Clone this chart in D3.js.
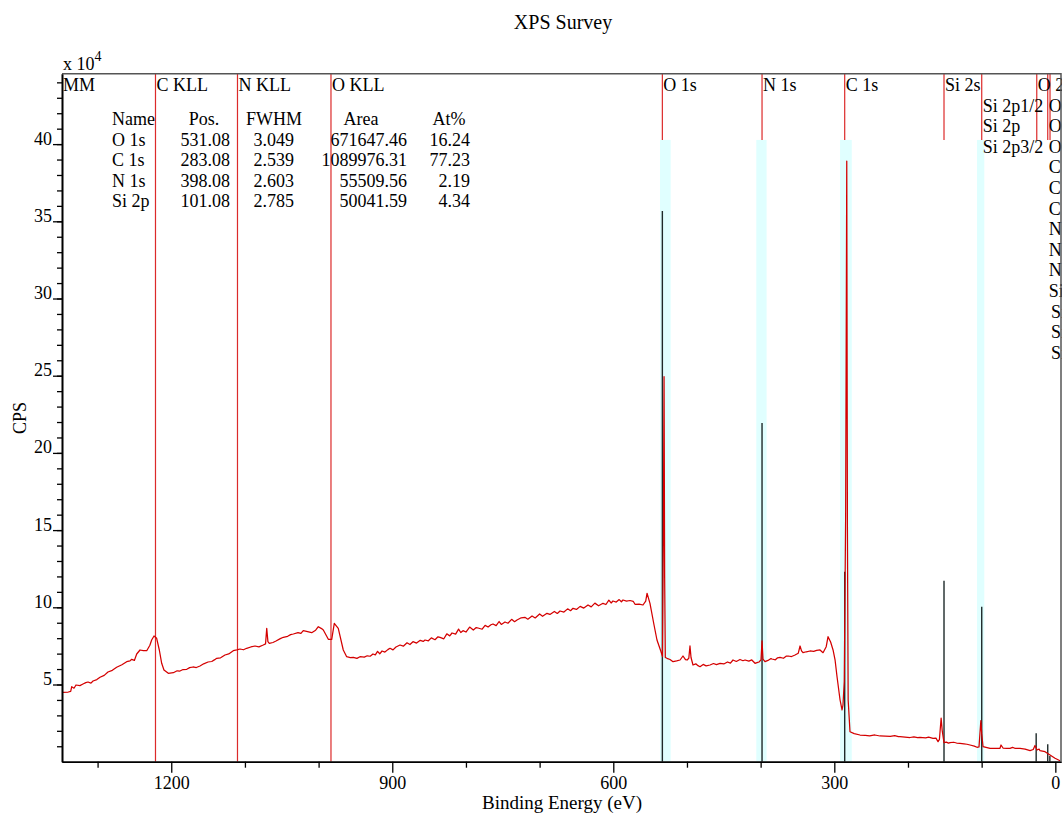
<!DOCTYPE html>
<html>
<head>
<meta charset="utf-8">
<script src="https://cdn.jsdelivr.net/npm/d3@7"></script>
<style>
  body { margin: 0; background: #fff; }
  text { font-family: "Liberation Serif", "Times New Roman", serif; fill: #000; }
</style>
</head>
<body>
<svg id="chart" width="1062" height="814"></svg>
<script>
// ---- Survey spectrum: [binding energy (eV), counts per second] ----
const surveySpectrum = [
  [1347.9, 44950], [1339.8, 45140], [1336.5, 45600], [1335.1, 48580], [1332, 47600],
  [1329.3, 49680], [1324, 49300], [1319.8, 50330], [1316, 51200], [1313.0, 51620],
  [1309, 50900], [1306.2, 52270], [1301, 53200], [1296.7, 54670], [1291, 55900],
  [1285.9, 58100], [1280, 59200], [1274.1, 61140], [1267, 62800], [1260.5, 64770],
  [1256, 65300], [1253.7, 66320], [1250, 65600], [1246.9, 69760], [1242.4, 72350],
  [1238, 72000], [1233.3, 71890], [1229, 75400], [1226.6, 78820], [1223.4, 81410],
  [1219.8, 79930], [1216.2, 72350], [1213.0, 63730], [1209.9, 59390], [1204.0, 57250],
  [1197.2, 57640], [1192, 58900], [1188.2, 58740], [1184, 59700], [1179.0, 59850],
  [1175, 60900], [1170.5, 61340], [1166, 61000], [1161.0, 61980], [1156, 63400],
  [1150.1, 64570], [1145, 64900], [1141, 66100], [1138.3, 66970], [1133, 67300],
  [1127.1, 69110], [1122, 69800], [1115.8, 71890], [1111, 72400], [1106.7, 72990],
  [1102, 72500], [1097.6, 73450], [1092, 74300], [1086.3, 74940], [1081, 74400],
  [1075.1, 75580], [1072, 76300], [1070.4, 86400], [1068.8, 77800], [1066.9, 76690],
  [1062, 77200], [1057.8, 78180], [1052, 79700], [1047.9, 80570], [1042, 81200],
  [1038, 82300], [1034.3, 82710], [1028, 83600], [1024, 83100], [1020.8, 84850],
  [1015, 84300], [1009.4, 83550], [1004, 85200], [1000.4, 87440], [996, 86200],
  [993.6, 85300], [986.8, 79280], [982.2, 79280], [978.7, 89640], [973.3, 86400],
  [966.5, 72350], [961.9, 68010], [957, 67400], [952.9, 67620], [948, 66900],
  [943.8, 68010], [938, 67700], [934, 68600], [930, 68300], [926.2, 69760],
  [923, 69200], [920, 71500], [917, 69900], [913.9, 71700], [910, 71000],
  [906, 72600], [903.1, 73450], [899, 72400], [895, 74300], [889.5, 75580],
  [885, 74800], [880, 77000], [876, 75900], [871.9, 77720], [867, 76800],
  [862, 78600], [858, 77900], [855.6, 78820], [851, 78300], [847, 80200],
  [842, 79000], [838, 80900], [835.2, 80570], [830, 79600], [826, 82800],
  [822, 81500], [818.9, 83360], [814, 82600], [810, 85900], [807, 83700],
  [804, 84850], [800, 84000], [795, 87200], [790, 85300], [786, 86900],
  [783.6, 86600], [778, 85800], [774, 88300], [770, 87200], [766, 88700],
  [763.3, 89190], [759, 88100], [755, 90800], [752, 88900], [747, 90480],
  [743, 89700], [738, 92200], [734, 90700], [730.7, 91780], [725, 93200],
  [720, 93500], [716, 92300], [710.3, 94370], [706, 93100], [700, 95700],
  [696, 94200], [690, 96120], [686, 95400], [680, 97300], [676, 96000],
  [672.3, 97610], [667, 96900], [662, 99000], [658, 97800], [654.7, 99350],
  [650, 98600], [645, 100600], [640, 99500], [634.3, 101490], [630, 100300],
  [625, 102700], [620, 101000], [614, 102590], [610, 101800], [606, 104600],
  [603, 102800], [600.4, 104080], [596, 103400], [592, 105000], [589, 103600],
  [586.8, 104730], [582, 104000], [577.3, 104410], [573, 103900], [570.5, 101950],
  [565, 102100], [559.7, 101490], [556, 104000], [554.2, 109070], [550.2, 102590],
  [544.7, 88540], [540.7, 78820], [535.2, 71240], [533.2, 68010], [532.0, 150000],
  [531.1, 249400], [530.3, 120000], [529.4, 67500], [527.1, 66970], [523, 66200],
  [518.9, 64770], [514, 65300], [509.4, 65870], [505.4, 68460], [502, 66100],
  [499.9, 65870], [497.5, 67000], [495.9, 74940], [494.5, 67500], [491.8, 62630],
  [488, 63400], [485, 62200], [482.3, 61530], [478, 63000], [474, 62100],
  [468.7, 62630], [464, 63600], [460, 62900], [455.1, 63730], [450, 63300],
  [445, 64600], [441, 63800], [437.5, 65870], [433, 64900], [428, 66200],
  [424, 65400], [421.2, 65870], [416, 65100], [412, 65900], [407.6, 63730],
  [404, 64300], [402.2, 64570], [399.5, 66000], [398.1, 78180], [396.8, 66500],
  [394.1, 64770], [390, 65600], [386, 66800], [384.6, 66520], [380, 66000],
  [377, 67300], [373.7, 67620], [369, 67000], [365, 68400], [362.8, 68460],
  [358, 68100], [353.3, 69110], [349, 70200], [346.5, 74940], [344.5, 71800],
  [342.5, 70600], [338, 71200], [333.0, 71700], [328, 71500], [324, 72100],
  [319.4, 72350], [315.3, 70600], [311, 74500], [308.5, 80960], [305, 77500],
  [301.7, 72350], [299, 66000], [296.3, 55050], [292.2, 39960], [289.5, 33490],
  [288.2, 36720], [286.5, 52000], [284.6, 160000], [283.1, 389000], [282.2, 150000],
  [281.2, 40000], [278.7, 19430], [273, 18200], [265.1, 17290], [258, 17000],
  [252, 16800], [245, 17300], [238.0, 16650], [231, 16500], [224.0, 16400],
  [218, 16900], [213, 16200], [210.8, 16190], [204, 15900], [197.2, 15670],
  [192, 16100], [187, 15600], [183.7, 15800], [176, 15500], [172, 15900],
  [166.0, 15160], [162, 15300], [159.2, 12950], [157.3, 14500], [155.0, 28300],
  [153.5, 20000], [151.1, 12310], [148, 12700], [145, 12000], [142.9, 12310],
  [138, 12600], [134, 12100], [129.4, 11920], [124, 11600], [120, 11300],
  [115.8, 10820], [110, 10100], [106.3, 9330], [103.6, 9600], [101.1, 26550],
  [99.9, 18000], [98.1, 9720], [94, 9300], [88.6, 8680], [82, 8700],
  [75.1, 8680], [73.7, 10820], [71.0, 8870], [66, 8700], [61.5, 8680],
  [58, 9300], [55, 8700], [47.9, 8680], [41, 8200], [34.3, 7120],
  [30, 7900], [27.6, 10490], [24.8, 7580], [22, 8200], [20.8, 7120],
  [14.0, 6480], [7.2, 4340], [0.4, 2200], [-6.4, 650]
];

// ---- Auger markers (drawn across the full height) ----
const augerNames = ["MM", "C KLL", "N KLL", "O KLL"];
const augerEnergies = [1348.3, 1221.4, 1110.1, 983.2];

// ---- Photoelectron line markers (short lines along the top) ----
const lineNames = [
  "O 1s", "N 1s", "C 1s", "Si 2s",
  "Si 2p1/2", "Si 2p", "Si 2p3/2",
  "O 2s",
  "O 2p1/2", "O 2p", "O 2p3/2", "C 2p1/2", "C 2p", "C 2p3/2",
  "N 2p1/2", "N 2p", "N 2p3/2", "Si 3s",
  "Si 3p1/2", "Si 3p", "Si 3p3/2"
];
const lineEnergies = [
  533.4, 398.1, 285.9, 151.1,
  99.9, 99.9, 99.9,
  25.2,
  10.3, 10.3, 10.3, 10.3, 10.3, 10.3,
  10.3, 10.3, 10.3, 10.3,
  7.2, 7.2, 7.2
];

// ---- Component lines (black) ----
const componentEnergies = [533.4, 398.1, 285.9, 151.1, 99.9, 26.0, 10.3, 7.4];
const componentHeights = [356700, 219400, 123100, 117200, 100400, 18400, 11300, 3700];

// ---- Quantification regions ----
const regionNames = ["O 1s", "N 1s", "C 1s", "Si 2p"];
const regionStart = [536.6, 405.9, 292.2, 106.3];
const regionEnd = [522.1, 391.9, 276.3, 96.4];
const regionTop = 402700;

// ---- Quantification table ----
const tableNames = ["O 1s", "C 1s", "N 1s", "Si 2p"];
const tablePos = [531.08, 283.08, 398.08, 101.08];
const tableFWHM = [3.049, 2.539, 2.603, 2.785];
const tableArea = [671647.46, 1089976.31, 55509.56, 50041.59];
const tableAt = [16.24, 77.23, 2.19, 4.34];

// ---- Axis ticks ----
const xMajorTicks = [1200, 900, 600, 300, 0];
const xMinorTicks = [1300, 1100, 1000, 800, 700, 500, 400, 200, 100];
const yMajorTicks = [50000, 100000, 150000, 200000, 250000, 300000, 350000, 400000];
const yMinorTicks = d3.range(10000, 450000, 10000);

// ---- Layout ----
const svg = d3.select("#chart");
const plot = { left: 62, right: 1061, top: 73.7, bottom: 761.7 };

const x = d3.scaleLinear().domain([1348.3, -7.7]).range([plot.left, plot.right]);
const y = d3.scaleLinear().domain([0, 445600]).range([plot.bottom, plot.top]);

svg.append("rect").attr("width", 1062).attr("height", 814).attr("fill", "#fff");

svg.append("defs").append("clipPath").attr("id", "plotClip")
  .append("rect")
  .attr("x", plot.left).attr("y", plot.top)
  .attr("width", plot.right - plot.left).attr("height", plot.bottom - plot.top);

const g = svg.append("g").attr("clip-path", "url(#plotClip)");

// Regions
g.selectAll("rect.region").data(regionNames).join("rect")
  .attr("class", "region")
  .attr("x", (d, i) => x(regionStart[i]))
  .attr("width", (d, i) => x(regionEnd[i]) - x(regionStart[i]))
  .attr("y", y(regionTop))
  .attr("height", y(0) - y(regionTop))
  .attr("fill", "#e0ffff");

// Auger marker lines
g.selectAll("line.auger").data(augerEnergies).join("line")
  .attr("class", "auger")
  .attr("x1", d => x(d)).attr("x2", d => x(d))
  .attr("y1", plot.top).attr("y2", plot.bottom)
  .attr("stroke", "#dc2a2a").attr("stroke-width", 1.2);

// Photoelectron marker lines
g.selectAll("line.pline").data(Array.from(new Set(lineEnergies))).join("line")
  .attr("class", "pline")
  .attr("x1", d => x(d)).attr("x2", d => x(d))
  .attr("y1", plot.top).attr("y2", y(regionTop))
  .attr("stroke", "#dc2a2a").attr("stroke-width", 1.2);

// Component lines
g.selectAll("line.comp").data(componentEnergies).join("line")
  .attr("class", "comp")
  .attr("x1", d => x(d)).attr("x2", d => x(d))
  .attr("y1", (d, i) => y(componentHeights[i])).attr("y2", plot.bottom)
  .attr("stroke", "#1e2a2a").attr("stroke-width", 1.4);

// Spectrum
g.append("path")
  .datum(surveySpectrum)
  .attr("fill", "none")
  .attr("stroke", "#d40000")
  .attr("stroke-width", 1.25)
  .attr("stroke-linejoin", "round")
  .attr("d", d3.line().x(d => x(d[0])).y(d => y(d[1])));

// Marker labels, stacked in rows so they do not overlap
const rowBase = 91, rowStep = 20.6, gap = 4;
const rows = [];
const labelLayer = svg.append("g").attr("font-size", 18);
const allLabels = augerNames.map((n, i) => ({ name: n, e: augerEnergies[i] }))
  .concat(lineNames.map((n, i) => ({ name: n, e: lineEnergies[i] })))
  .sort((a, b) => b.e - a.e);
allLabels.forEach(lab => {
  const x0 = Math.max(x(lab.e), plot.left) + 1;
  const t = labelLayer.append("text").attr("x", x0).text(lab.name);
  const w = t.node().getComputedTextLength();
  let r = 0;
  while (rows[r] && rows[r].some(s => x0 < s.end + gap && x0 + w > s.start)) r++;
  if (!rows[r]) rows[r] = [];
  rows[r].push({ start: x0, end: x0 + w });
  t.attr("y", rowBase + r * rowStep);
});

// Axes
const xAxisMinor = d3.axisBottom(x).tickValues(xMinorTicks).tickSize(6).tickSizeOuter(0).tickFormat("");
const xAxis = d3.axisBottom(x).tickValues(xMajorTicks).tickSize(11).tickSizeOuter(0).tickPadding(4)
  .tickFormat(d3.format("d"));
const yAxisMinor = d3.axisLeft(y).tickValues(yMinorTicks).tickSize(5).tickSizeOuter(0).tickFormat("");
const yAxis = d3.axisLeft(y).tickValues(yMajorTicks).tickSize(9).tickSizeOuter(0).tickPadding(1)
  .tickFormat(d => d / 10000);

const gxm = svg.append("g").attr("transform", `translate(0,${plot.bottom})`).call(xAxisMinor);
const gx = svg.append("g").attr("transform", `translate(0,${plot.bottom})`).call(xAxis);
const gym = svg.append("g").attr("transform", `translate(${plot.left},0)`).call(yAxisMinor);
const gy = svg.append("g").attr("transform", `translate(${plot.left},0)`).call(yAxis);

[gxm, gx, gym, gy].forEach(a => {
  a.selectAll("line").attr("stroke", "#000").attr("stroke-width", 1.3);
  a.select(".domain").attr("stroke", "#000").attr("stroke-width", 1.6);
});
gx.selectAll("text").attr("font-size", 18).attr("font-family", "Liberation Serif").attr("fill", "#000");
gy.selectAll("text").attr("font-size", 18).attr("font-family", "Liberation Serif").attr("fill", "#000")
  .attr("dy", "0");

// Frame (top and right)
svg.append("path")
  .attr("d", `M${plot.left},${plot.top}H${plot.right}V${plot.bottom}`)
  .attr("fill", "none").attr("stroke", "#555").attr("stroke-width", 1.5);

// Titles
svg.append("text").attr("x", 563).attr("y", 29).attr("text-anchor", "middle")
  .attr("font-size", 20).text("XPS Survey");
svg.append("text").attr("x", 562).attr("y", 809).attr("text-anchor", "middle")
  .attr("font-size", 19).text("Binding Energy (eV)");
svg.append("text").attr("transform", "translate(26,418) rotate(-90)").attr("text-anchor", "middle")
  .attr("font-size", 18).text("CPS");
const sc = svg.append("text").attr("x", 63).attr("y", 70).attr("font-size", 18);
sc.append("tspan").text("x 10");
sc.append("tspan").attr("font-size", 14).attr("dy", -9).text("4");

// Quantification table
const tbl = svg.append("g").attr("font-size", 18);
const headY = 125, rowY0 = 145.5, tRow = 20.5;
tbl.append("text").attr("x", 112).attr("y", headY).text("Name");
tbl.append("text").attr("x", 204).attr("y", headY).attr("text-anchor", "middle").text("Pos.");
tbl.append("text").attr("x", 274).attr("y", headY).attr("text-anchor", "middle").text("FWHM");
tbl.append("text").attr("x", 361).attr("y", headY).attr("text-anchor", "middle").text("Area");
tbl.append("text").attr("x", 449).attr("y", headY).attr("text-anchor", "middle").text("At%");
tableNames.forEach((n, i) => {
  const yy = rowY0 + i * tRow;
  tbl.append("text").attr("x", 112).attr("y", yy).text(n);
  tbl.append("text").attr("x", 230).attr("y", yy).attr("text-anchor", "end").text(tablePos[i].toFixed(2));
  tbl.append("text").attr("x", 294).attr("y", yy).attr("text-anchor", "end").text(tableFWHM[i].toFixed(3));
  tbl.append("text").attr("x", 407).attr("y", yy).attr("text-anchor", "end").text(tableArea[i].toFixed(2));
  tbl.append("text").attr("x", 470).attr("y", yy).attr("text-anchor", "end").text(tableAt[i].toFixed(2));
});
</script>
</body>
</html>
